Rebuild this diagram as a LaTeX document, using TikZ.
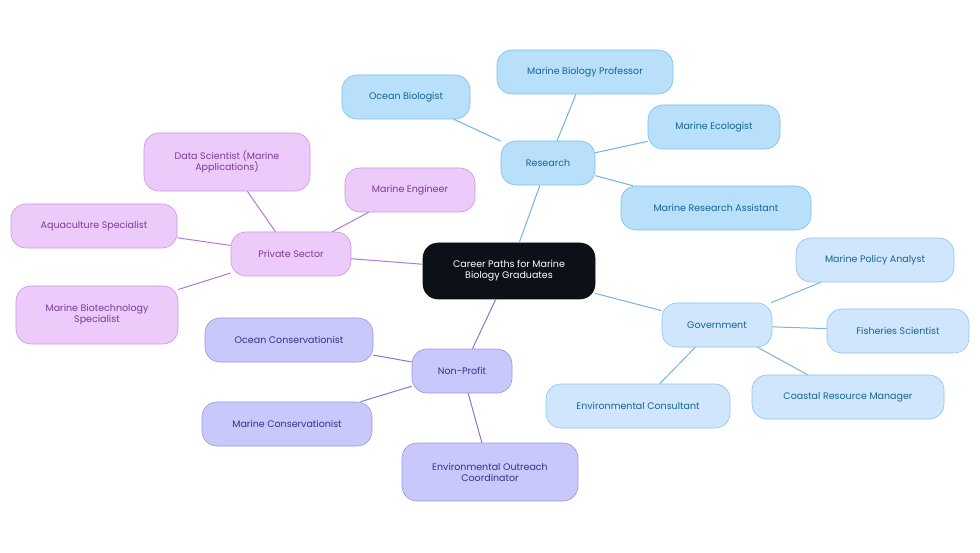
\documentclass[tikz,border=0pt]{standalone}
\usepackage{fontspec}
\setmainfont{Poppins}
\begin{document}
\begin{tikzpicture}[x=1pt,y=-1pt,
 base/.style={rounded corners=15pt,draw,line width=0.6pt,align=center,font=\fontsize{9.5}{11}\selectfont,inner sep=0pt},
 res/.style={base,fill=blue!0!white,fill={rgb,255:red,184;green,224;blue,250},draw={rgb,255:red,120;green,190;blue,235},text={rgb,255:red,20;green,100;blue,150}},
 gov/.style={base,fill={rgb,255:red,208;green,230;blue,252},draw={rgb,255:red,140;green,195;blue,240},text={rgb,255:red,20;green,100;blue,150}},
 pri/.style={base,fill={rgb,255:red,236;green,202;blue,250},draw={rgb,255:red,200;green,150;blue,225},text={rgb,255:red,120;green,60;blue,150}},
 non/.style={base,fill={rgb,255:red,200;green,200;blue,250},draw={rgb,255:red,150;green,150;blue,225},text={rgb,255:red,50;green,50;blue,140}},
 lres/.style={draw={rgb,255:red,110;green,180;blue,225},line width=1pt},
 lgov/.style={draw={rgb,255:red,120;green,180;blue,225},line width=1pt},
 lpri/.style={draw={rgb,255:red,180;green,120;blue,215},line width=1pt},
 lnon/.style={draw={rgb,255:red,130;green,120;blue,210},line width=1pt}]
\useasboundingbox (0,0) rectangle (980,553);
\node[base,fill={rgb,255:red,12;green,17;blue,23},draw={rgb,255:red,12;green,17;blue,23},text=white,minimum width=172pt,minimum height=56pt] (c) at (509,271) {Career Paths for Marine\\Biology Graduates};
\node[res,minimum width=94pt,minimum height=44pt] (r) at (548,163) {Research};
\node[res,minimum width=128pt,minimum height=44pt] (r1) at (406,97) {Ocean Biologist};
\node[res,minimum width=176pt,minimum height=44pt] (r2) at (585,72) {Marine Biology Professor};
\node[res,minimum width=132pt,minimum height=44pt] (r3) at (714,127) {Marine Ecologist};
\node[res,minimum width=190pt,minimum height=44pt] (r4) at (716,208) {Marine Research Assistant};
\node[gov,minimum width=110pt,minimum height=44pt] (g) at (717,325) {Government};
\node[gov,minimum width=158pt,minimum height=44pt] (g1) at (875,260) {Marine Policy Analyst};
\node[gov,minimum width=142pt,minimum height=44pt] (g2) at (898,331) {Fisheries Scientist};
\node[gov,minimum width=192pt,minimum height=44pt] (g3) at (848,397) {Coastal Resource Manager};
\node[gov,minimum width=184pt,minimum height=44pt] (g4) at (638,406) {Environmental Consultant};
\node[pri,minimum width=120pt,minimum height=44pt] (p) at (291,254) {Private Sector};
\node[pri,minimum width=130pt,minimum height=44pt] (p1) at (410,190) {Marine Engineer};
\node[pri,minimum width=166pt,minimum height=58pt] (p2) at (227,162) {Data Scientist (Marine\\Applications)};
\node[pri,minimum width=166pt,minimum height=44pt] (p3) at (94,226) {Aquaculture Specialist};
\node[pri,minimum width=162pt,minimum height=58pt] (p4) at (97,315) {Marine Biotechnology\\Specialist};
\node[non,minimum width=100pt,minimum height=44pt] (n) at (462,371) {Non-Profit};
\node[non,minimum width=168pt,minimum height=44pt] (n1) at (289,340) {Ocean Conservationist};
\node[non,minimum width=170pt,minimum height=44pt] (n2) at (287,424) {Marine Conservationist};
\node[non,minimum width=176pt,minimum height=58pt] (n3) at (490,472) {Environmental Outreach\\Coordinator};
\begin{scope}[on background layer/.style={}]
\end{scope}
\path[lres] (c) -- (r) (r)--(r1) (r)--(r2) (r)--(r3) (r)--(r4);
\path[lgov] (c) -- (g) (g)--(g1) (g)--(g2) (g)--(g3) (g)--(g4);
\path[lpri] (c) -- (p) (p)--(p1) (p)--(p2) (p)--(p3) (p)--(p4);
\path[lnon] (c) -- (n) (n)--(n1) (n)--(n2) (n)--(n3);
\end{tikzpicture}
\end{document}
